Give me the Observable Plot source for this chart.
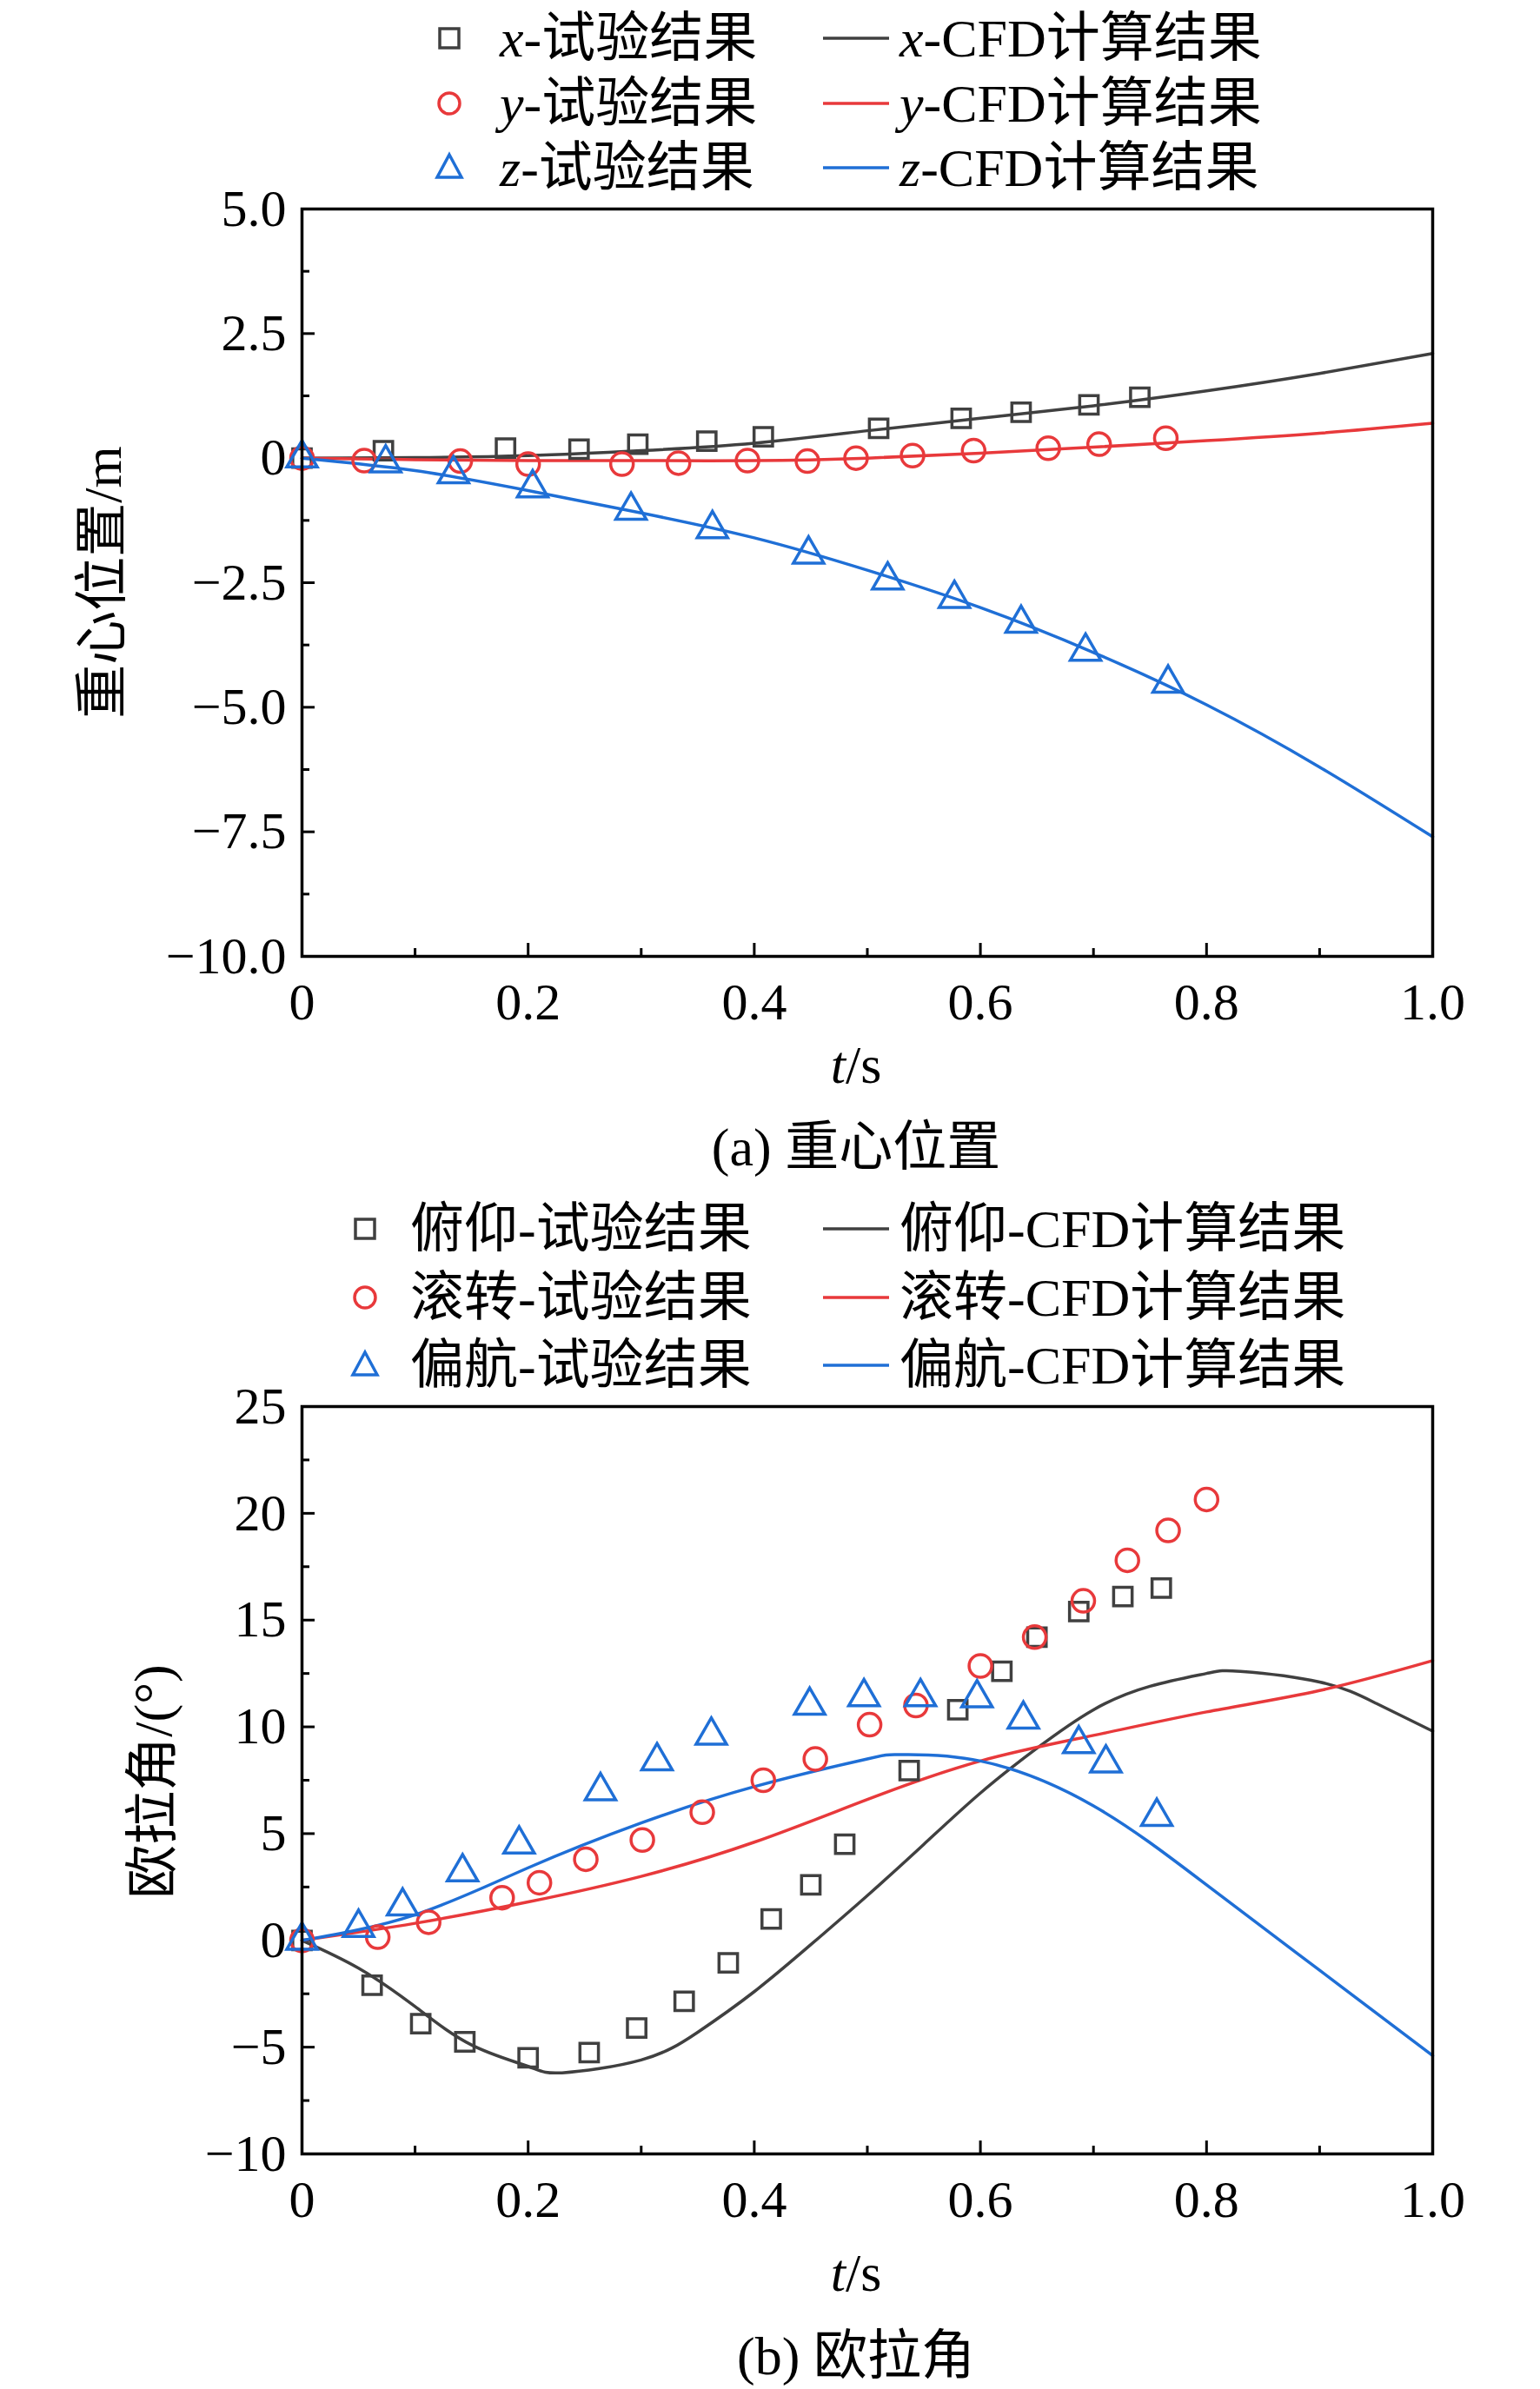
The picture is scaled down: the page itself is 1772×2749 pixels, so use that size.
<!DOCTYPE html>
<html><head><meta charset="utf-8">
<script src="https://cdn.jsdelivr.net/npm/d3@7"></script>
<script src="https://cdn.jsdelivr.net/npm/@observablehq/plot@0.6"></script>
<style>
body{margin:0;background:#fff;width:1772px;height:2749px;position:relative;overflow:hidden;font-family:"Liberation Serif","Noto Sans CJK SC",serif;}
.abs{position:absolute;white-space:nowrap;}
.t{font-size:62px;line-height:1;}
</style></head><body>
<script>
// ---- data: panel (a)
const xExpT=[0,0.072,0.18,0.245,0.297,0.358,0.408,0.51,0.583,0.636,0.696,0.741];
const xExpV=[0,0.15,0.2,0.18,0.28,0.34,0.43,0.6,0.8,0.92,1.07,1.22];
const yExpT=[0,0.055,0.14,0.2,0.283,0.333,0.394,0.447,0.49,0.54,0.594,0.66,0.705,0.764];
const yExpV=[0,-0.05,-0.06,-0.12,-0.12,-0.1,-0.05,-0.06,0,0.05,0.15,0.2,0.28,0.4];
const zExpT=[0,0.074,0.134,0.204,0.291,0.363,0.448,0.518,0.577,0.636,0.693,0.766];
const zExpV=[0,-0.1,-0.32,-0.6,-1.05,-1.42,-1.93,-2.45,-2.82,-3.32,-3.88,-4.52];
const cfdT=[0,0.1,0.2,0.3,0.4,0.5,0.6,0.7,0.8,0.9,1.0];
const xCfd=[0,0.01,0.05,0.15,0.3,0.55,0.8,1.05,1.35,1.7,2.1];
const yCfd=[0,-0.03,-0.05,-0.05,-0.05,0,0.1,0.22,0.35,0.5,0.7];
const zCfd=[0,-0.25,-0.65,-1.1,-1.6,-2.25,-3.0,-3.9,-4.95,-6.2,-7.6];
// ---- data: panel (b)
const pExpT=[0,0.062,0.105,0.144,0.2,0.254,0.296,0.338,0.377,0.415,0.45,0.48,0.537,0.58,0.619,0.65,0.687,0.726,0.76];
const pExpV=[0,-2.1,-3.9,-4.75,-5.5,-5.25,-4.1,-2.85,-1.05,1.0,2.6,4.5,7.95,10.8,12.6,14.2,15.4,16.1,16.5];
const rExpT=[0,0.067,0.112,0.177,0.21,0.251,0.301,0.354,0.408,0.454,0.502,0.543,0.6,0.648,0.691,0.73,0.766,0.8];
const rExpV=[0,0.15,0.85,2.0,2.7,3.8,4.7,6.0,7.5,8.5,10.1,11.0,12.85,14.2,15.9,17.8,19.2,20.65];
const wExpT=[0,0.05,0.089,0.142,0.192,0.264,0.314,0.362,0.449,0.497,0.547,0.597,0.638,0.687,0.711,0.756];
const wExpV=[0,0.6,1.6,3.2,4.5,7.0,8.4,9.6,11.0,11.4,11.4,11.35,10.35,9.2,8.3,5.8];
const pCfdT=[0,0.05,0.1,0.15,0.2,0.23,0.3,0.35,0.4,0.45,0.5,0.55,0.6,0.65,0.7,0.75,0.8,0.83,0.9,0.95,1.0];
const pCfdV=[0,-1.3,-3.1,-4.9,-5.9,-6.2,-5.6,-4.3,-2.4,-0.2,2.1,4.5,6.9,9.0,10.8,11.9,12.5,12.6,12.1,11.1,9.8];
const rCfdT=[0,0.1,0.2,0.3,0.4,0.5,0.6,0.7,0.8,0.9,1.0];
const rCfdV=[0,0.8,1.8,3.0,4.6,6.6,8.4,9.6,10.7,11.7,13.1];
const wCfdT=[0,0.1,0.2,0.3,0.4,0.5,0.53,0.6,0.7,0.8,0.9,1.0];
const wCfdV=[0,1.2,3.4,5.5,7.2,8.5,8.7,8.4,6.3,2.6,-1.4,-5.4];
const xTicks=[0,0.2,0.4,0.6,0.8,1.0], xMinor=[0.1,0.3,0.5,0.7,0.9];
const yTicksA=[5,2.5,0,-2.5,-5,-7.5,-10], yMinorA=[3.75,1.25,-1.25,-3.75,-6.25,-8.75];
const yTicksB=[25,20,15,10,5,0,-5,-10], yMinorB=[22.5,17.5,12.5,7.5,2.5,-2.5,-7.5];

const C={k:"#404040",r:"#e8393b",b:"#1f6fd6"};
const zip=(t,v)=>t.map((d,i)=>({t:d,v:v[i]}));
const minus=s=>s.replace("-","\u2212");

function panel(top,dom,yT,yM,fmtY,series,pxUnit){
  const [y0,y1]=dom;
  const tl=15/pxUnit, tlx=15/1300;
  const marks=[
    Plot.ruleX(xTicks,{x:d=>d,y1:y0,y2:y0+tl,stroke:"#000",strokeWidth:3}),
    Plot.ruleX(xMinor,{x:d=>d,y1:y0,y2:y0+tl*0.6,stroke:"#000",strokeWidth:3}),
    Plot.ruleY(yT,{y:d=>d,x1:0,x2:tlx,stroke:"#000",strokeWidth:3}),
    Plot.ruleY(yM,{y:d=>d,x1:0,x2:tlx*0.6,stroke:"#000",strokeWidth:3}),
  ];
  for(const s of series){
    marks.push(Plot.line(s.line,{x:"t",y:"v",stroke:s.c,strokeWidth:3.5,curve:"natural"}));
  }
  for(const s of series){
    marks.push(Plot.dot(s.pts,{x:"t",y:"v",symbol:s.sym,r:s.sym==="square"?12:13,stroke:s.c,fill:"none",strokeWidth:3.5}));
  }
  marks.push(Plot.frame({stroke:"#000",strokeWidth:3.5}));
  const svg=Plot.plot({
    width:1772,height:1260,marginTop:240,marginBottom:160,marginLeft:347,marginRight:124,
    style:{fontFamily:'"Liberation Serif",serif',fontSize:"60px",background:"transparent"},
    x:{domain:[0,1],ticks:xTicks,tickSize:0,tickPadding:30,tickFormat:d=>d===0?"0":d.toFixed(1),label:null},
    y:{domain:dom,ticks:yT,tickSize:0,tickPadding:18,tickFormat:fmtY,label:null},
    marks
  });
  svg.style.position="absolute";svg.style.left="0px";svg.style.top=top+"px";
  document.body.appendChild(svg);
}
panel(0,[-10,5],yTicksA,yMinorA,d=>d===0?"0":minus(d.toFixed(1)),[
  {c:C.k,sym:"square",pts:zip(xExpT,xExpV),line:zip(cfdT,xCfd)},
  {c:C.r,sym:"circle",pts:zip(yExpT,yExpV),line:zip(cfdT,yCfd)},
  {c:C.b,sym:"triangle",pts:zip(zExpT,zExpV),line:zip(cfdT,zCfd)}
],(1100-240)/15);
panel(1378,[-10,25],yTicksB,yMinorB,d=>minus(String(d)),[
  {c:C.k,sym:"square",pts:zip(pExpT,pExpV),line:zip(pCfdT,pCfdV)},
  {c:C.r,sym:"circle",pts:zip(rExpT,rExpV),line:zip(rCfdT,rCfdV)},
  {c:C.b,sym:"triangle",pts:zip(wExpT,wExpV),line:zip(wCfdT,wCfdV)}
],(2483-1618)/35);

// ---- text & legends
function txt(html,x,y,opts={}){
  const d=document.createElement("div");d.className="abs t";d.innerHTML=html;
  d.style.left=x+"px";d.style.top=y+"px";
  if(opts.center)d.style.transform="translate(-50%,-50%)";else d.style.transform="translateY(-50%)";
  if(opts.rot)d.style.transform="translate(-50%,-50%) rotate(-90deg)";
  document.body.appendChild(d);
}
function icon(kind,c,x,y){
  const s=document.createElementNS("http://www.w3.org/2000/svg","svg");
  s.setAttribute("width",90);s.setAttribute("height",40);
  s.style.position="absolute";s.style.left=(x-45)+"px";s.style.top=(y-20)+"px";
  let el;
  if(kind==="line") el=`<line x1="7" x2="83" y1="20" y2="20" stroke="${c}" stroke-width="3.5"/>`;
  else if(kind==="square") el=`<rect x="34" y="9" width="22" height="22" fill="none" stroke="${c}" stroke-width="3.5"/>`;
  else if(kind==="circle") el=`<circle cx="45" cy="20" r="12" fill="none" stroke="${c}" stroke-width="3.5"/>`;
  else el=`<polygon points="45,5 59,31 31,31" fill="none" stroke="${c}" stroke-width="3.5"/>`;
  s.innerHTML=el;document.body.appendChild(s);
}
const legA=[["<i>x</i>-试验结果","<i>x</i>-CFD计算结果",C.k,"square"],["<i>y</i>-试验结果","<i>y</i>-CFD计算结果",C.r,"circle"],["<i>z</i>-试验结果","<i>z</i>-CFD计算结果",C.b,"triangle"]];
[44,119,193].forEach((y,i)=>{const L=legA[i];icon(L[3],L[2],517,y);txt(L[0],575,y);icon("line",L[2],985,y);txt(L[1],1035,y);});
const legB=[["俯仰-试验结果","俯仰-CFD计算结果",C.k,"square"],["滚转-试验结果","滚转-CFD计算结果",C.r,"circle"],["偏航-试验结果","偏航-CFD计算结果",C.b,"triangle"]];
[1414,1493,1571].forEach((y,i)=>{const L=legB[i];icon(L[3],L[2],420,y);txt(L[0],472,y);icon("line",L[2],985,y);txt(L[1],1035,y);});
txt("重心位置/m",118,670,{rot:true});
txt("欧拉角/(°)",176,2050,{rot:true});
txt("<i>t</i>/s",985,1225,{center:true});
txt("<i>t</i>/s",985,2615,{center:true});
txt("(a) 重心位置",985,1320,{center:true});
txt("(b) 欧拉角",985,2711,{center:true});
</script>
</body></html>
